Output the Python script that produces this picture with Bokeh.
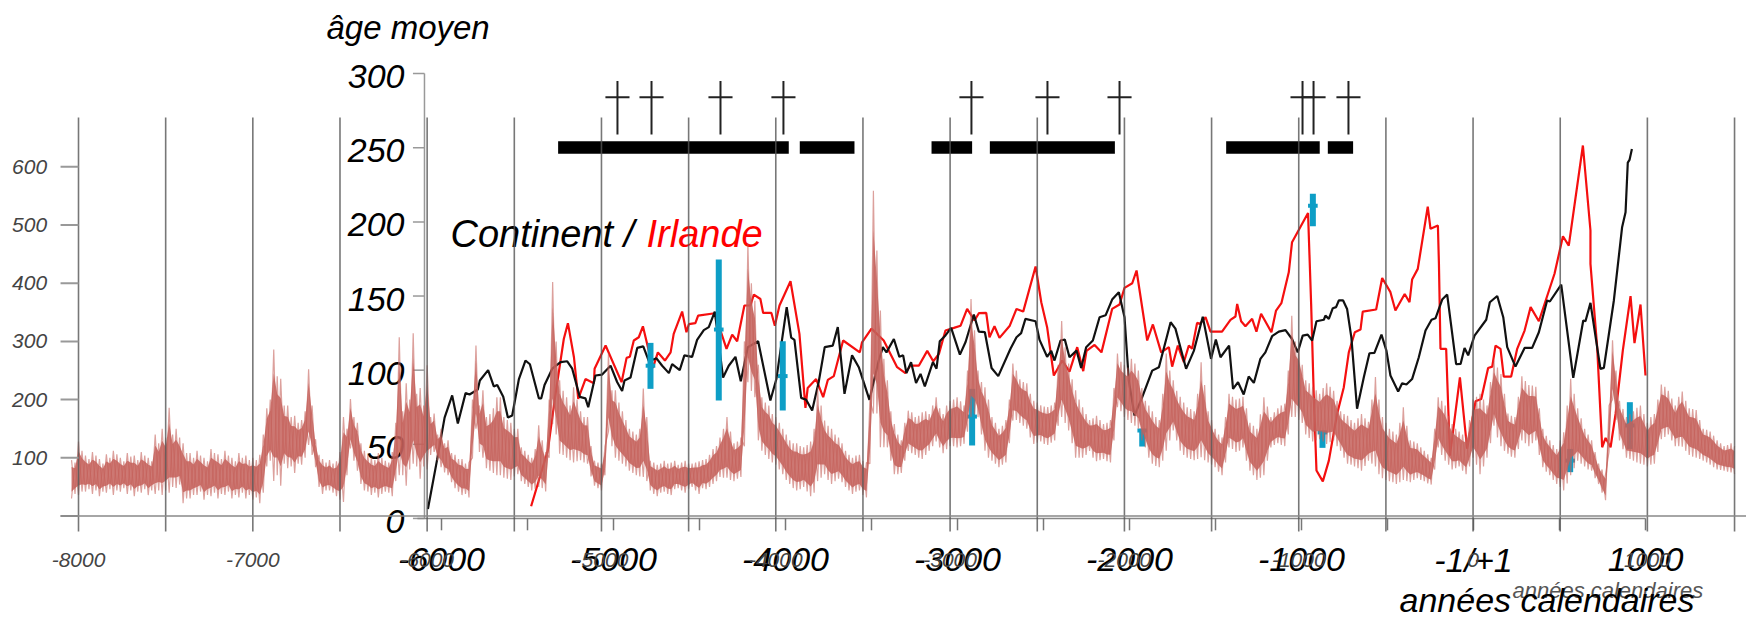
from bokeh.plotting import figure
from bokeh.models import Range1d
from bokeh.core.properties import value
from bokeh.embed import file_html
from bokeh.resources import INLINE

# ---------- black curve (Continent), front axes ----------
black_years = [-6079,-6025,-5982,-5938,-5905,-5860,-5837,-5789,-5777,-5729,-5696,-5676,-5641,-5614,-5589,-5550,-5512,-5486,-5434,-5420,-5401,-5356,-5308,-5269,-5240,-5196,-5163,-5147,-5105,-5066,-5017,-4979,-4950,-4936,-4901,-4862,-4827,-4794,-4750,-4717,-4678,-4659,-4615,-4588,-4543,-4514,-4475,-4446,-4411,-4363,-4330,-4291,-4260,-4219,-4159,-4088,-4053,-3993,-3967,-3948,-3909,-3880,-3845,-3807,-3772,-3725,-3696,-3657,-3613,-3574,-3512,-3458,-3434,-3413,-3370,-3338,-3316,-3297,-3270,-3241,-3215,-3190,-3143,-3122,-3103,-3070,-3037,-2986,-2953,-2905,-2876,-2841,-2802,-2763,-2692,-2657,-2630,-2605,-2546,-2523,-2479,-2455,-2436,-2401,-2376,-2349,-2308,-2281,-2252,-2213,-2174,-2139,-2101,-2062,-2029,-2004,-1971,-1926,-1868,-1829,-1761,-1733,-1671,-1626,-1574,-1526,-1498,-1471,-1421,-1398,-1369,-1336,-1307,-1277,-1239,-1210,-1171,-1132,-1093,-1055,-1022,-993,-964,-938,-913,-870,-861,-841,-818,-799,-783,-758,-735,-710,-677,-638,-605,-576,-535,-506,-483,-438,-415,-390,-357,-318,-279,-244,-221,-182,-153,-101,-75,-52,-31,6,74,95,138,173,196,244,297,341,380,428,444,510,580,638,651,680,738,758,816,864,884,897,907,921]
black_ages = [6.4,40,68,83,64,84.5,83.6,87,93,100,89,90,82,68,69.4,94,106.5,104,81,81,90,101,105.4,106,101,82,81,75,96.4,97,103,92,86,93,95,115,116,106,108,103,98,104,100,110,109,120.4,127,129,139.5,95,103,109,92.5,115.5,119.5,79.5,94,142.5,122,120.4,81.3,80,72.8,92,115.5,116.6,129,84,110,102,80,106.5,115.5,112,121,109,110,98,105.4,91.4,97.5,89,105.4,101,119.5,123.4,128.5,110.5,119,137.5,126,125.6,101.5,96,114.4,122.2,125,134.6,133,120.4,109,113,106.5,120,120.6,108.7,113.2,101.5,115.5,120,135.7,137,147.6,152.6,135.7,93,69.4,81.8,99.7,102,132.3,128,100.9,113,136,107.6,120.6,108.7,116.6,87.4,91.9,83.6,95.7,91.4,107.6,112,122.9,126,127,121,112,123.3,124,120,133,134,136.8,134.6,141.8,142.5,147,147,141.3,122,74,95,111.4,111.6,124,113,96.4,85.6,91.2,90.3,94,108.7,126.7,134,135,147.6,151,104,104.2,115,110,123.3,134,145.8,150,135.7,115.5,102.4,115,115,125.6,147,146.3,157.7,94.8,133.5,133,145.4,100.9,101.5,147,196.4,206.5,240,241.8,249.2]

# ---------- red curve (Irlande), front axes ----------
red_years = [-5479,-5382,-5337,-5289,-5265,-5230,-5205,-5163,-5114,-5110,-5046,-4953,-4924,-4905,-4882,-4853,-4829,-4771,-4742,-4701,-4668,-4650,-4601,-4576,-4562,-4524,-4508,-4411,-4343,-4310,-4281,-4239,-4204,-4184,-4146,-4130,-4082,-4062,-4035,-3971,-3919,-3884,-3871,-3822,-3781,-3754,-3719,-3665,-3568,-3555,-3500,-3429,-3351,-3303,-3274,-3225,-3176,-3141,-3108,-3070,-3021,-2982,-2944,-2901,-2876,-2833,-2814,-2785,-2756,-2696,-2657,-2618,-2546,-2513,-2479,-2440,-2391,-2349,-2304,-2269,-2250,-2203,-2163,-2101,-2058,-2029,-1984,-1959,-1897,-1864,-1816,-1771,-1752,-1719,-1684,-1655,-1636,-1607,-1591,-1558,-1529,-1462,-1413,-1384,-1374,-1351,-1326,-1287,-1262,-1235,-1175,-1148,-1117,-1074,-1055,-962,-944,-929,-913,-876,-841,-793,-754,-725,-690,-657,-644,-566,-531,-483,-454,-400,-372,-357,-324,-266,-250,-207,-201,-192,-159,-137,-79,-37,12,45,85,109,128,157,176,219,254,297,332,380,471,520,554,636,680,680,719,748,768,797,826,868,913,936,971,1000]
red_ages = [8.2,45.8,84,121,131.7,108.7,80.6,94,91.2,100.9,116.6,91.9,108.3,109,120,122.2,129.6,101.5,112,106.5,112,124.5,139.5,125.6,131,131.7,136.8,138.4,114.4,124,119.5,143.6,143.6,151,148,138.6,138.6,130,143.6,160,124.5,74.6,88,94,81.8,93.4,96,120,112,118.8,128,120,102,98,103,103,113,106,111,126.7,128.5,130,141.3,133.5,138.4,138.6,122.2,129.6,121.8,130,141.3,139.5,169.9,145.8,129,96.4,106.5,99,115.5,99.3,113,117,112,141.3,144.3,155.5,158.6,167.2,120,130.8,112,115.5,102.4,116.6,105.4,116.6,114.4,131.9,131.2,135.7,126,126,133.9,136.2,144.7,133,129.6,134.6,126,138,125.6,140.2,145.2,166,186.3,206,144.7,84,32.3,25,39,70.5,88.5,112,125.6,127.4,139.5,140.9,162.2,152.6,140.2,151.4,145.8,161.1,168.3,210.3,195.3,197.5,171.7,114.4,114.4,42.4,95.2,47,79,80.6,101.5,102.4,116.6,114.4,95.7,95.7,114.4,126.7,142.5,133,165,190.3,184,251.5,194.2,171.7,115.5,48,54.3,48,70.5,113.2,149.9,118.2,144.3,96.4]

# ---------- brown curve, back axes: band read every 40 years from -8040 to 1480 ----------
brown_high = [96,128,104,110,98,106,112,100,108,104,110,100,140,150,186,150,125,108,112,100,115,106,112,100,108,104,
  100,105,185,286,236,190,172,165,252,132,98,96,94,170,201,160,112,100,108,95,110,307,228,314,220,259,
  176,150,130,105,98,92,293,216,175,204,170,160,150,112,100,156,110,402,233,204,221,180,170,95,90,
  279,216,180,150,140,219,95,88,95,92,88,95,90,94,98,115,135,170,125,135,468,370,204,190,170,
  150,130,125,118,128,221,164,150,135,112,100,105,92,559,353,233,158,130,181,170,178,175,204,175,198,
  204,190,373,250,221,170,150,165,262,235,228,198,190,187,195,335,262,216,187,165,172,158,165,279,260,
  270,250,198,180,165,279,233,205,187,180,264,180,150,135,210,200,205,160,150,204,170,185,193,344,290,
  233,222,210,228,215,180,172,160,175,162,239,170,150,140,187,130,125,112,100,204,190,158,145,138,200,
  210,190,267,244,176,170,240,225,222,150,130,115,144,236,185,150,130,90,72,302,198,170,180,190,160,
  175,226,215,190,214,185,182,150,145,130,120,125]
brown_low = [30,36,42,38,34,40,36,42,38,34,40,36,38,36,40,48,22,30,36,28,34,30,36,30,32,30,
  28,22,85,60,52,82,74,88,122,84,38,44,34,24,116,78,44,36,32,42,34,70,52,90,64,80,
  110,84,70,48,36,32,150,100,78,70,66,62,72,55,44,50,42,158,107,100,92,96,90,52,44,
  145,100,90,78,70,67,44,34,42,36,48,40,50,38,46,55,67,66,60,67,230,204,112,98,88,
  72,55,44,50,34,60,72,55,64,50,38,44,32,176,118,118,72,74,112,105,98,112,128,108,120,
  118,124,170,170,112,95,84,92,164,160,150,124,128,122,130,170,147,100,100,112,94,98,92,187,170,
  160,150,118,90,84,112,147,112,100,96,101,92,84,70,118,110,118,78,62,70,118,125,120,170,165,
  140,128,132,124,130,112,90,85,78,95,85,65,60,55,62,58,65,60,54,118,95,80,85,72,100,
  72,100,155,120,107,100,130,120,130,84,70,55,44,70,95,85,78,55,27,200,130,100,95,90,85,
  90,132,140,120,119,105,100,95,88,80,78,75]
# readings halfway between those above (-8020 to 1500)
brown_high_mid = [92,112,98,104,90,100,106,94,102,96,104,94,125,135,140,135,108,100,104,94,108,98,104,94,100,96,
  96,140,200,240,190,170,160,180,190,105,92,90,110,150,170,125,105,96,100,92,160,180,200,210,190,170,
  140,125,108,98,90,200,190,170,185,204,165,150,118,105,115,130,200,300,215,190,200,170,120,92,120,
  216,195,165,145,150,170,92,90,90,95,92,90,92,96,105,120,150,145,128,300,400,260,195,175,160,
  140,125,120,122,150,190,155,140,125,105,104,95,200,456,270,180,140,160,178,172,180,190,185,190,200,
  197,250,319,230,200,160,155,200,250,230,210,195,188,190,260,290,235,200,175,168,165,160,220,265,255,
  262,220,190,170,210,250,215,195,184,210,225,165,140,170,205,202,185,155,175,188,178,190,250,300,260,
  228,216,220,222,198,175,165,168,168,200,200,160,145,160,155,128,118,106,150,198,172,150,140,165,205,
  200,230,255,210,172,205,232,224,185,138,122,130,190,210,168,140,110,80,190,250,184,175,186,175,170,
  200,222,202,205,198,184,165,148,138,125,122,120]
brown_low_mid = [38,42,46,44,42,46,44,48,44,42,46,44,44,44,50,54,30,36,42,36,40,38,42,36,40,36,
  32,40,95,70,90,85,90,100,105,50,44,40,28,70,95,55,42,40,38,40,60,70,80,85,85,105,
  95,75,58,42,38,100,110,82,74,70,64,68,60,50,46,48,100,140,105,96,94,92,68,48,70,
  120,95,85,74,68,60,38,40,38,46,44,46,44,48,50,60,66,62,64,120,215,130,105,92,80,
  62,48,46,42,40,66,62,60,58,44,42,36,90,176,118,95,72,95,108,100,105,120,118,115,120,
  120,145,175,140,100,90,88,125,165,155,135,126,124,126,155,160,125,100,105,100,96,94,130,180,165,
  155,130,100,86,95,130,130,105,98,98,96,88,76,92,115,112,95,70,66,95,122,122,140,170,160,
  134,130,128,127,120,100,88,82,86,90,72,62,58,58,60,62,62,56,80,105,88,82,78,85,88,
  85,125,135,112,102,115,125,125,105,76,62,50,56,82,90,80,65,40,110,165,115,98,92,88,88,
  110,136,130,120,112,102,98,92,84,79,76,72]
brown_step = 20
brown_start = -8040

# ---------- blue error bars, front axes ----------
blue_years = [-4785,-4388,-4016,-2915,-1926,-934,-878,562,909]
blue_low = [87.4,79.5,72.8,49.2,48.5,197,47.6,31.2,46.9]
blue_high = [118.4,174.6,119.5,87.4,60.4,218.9,59.3,46.9,78.4]
blue_mid = [103,127.4,96,68.7,59.3,210.8,58,39,62.7]

# ---------- black bars and crosses, front axes ----------
bar_start = [-5322,-3917,-3151,-2812,-1438,-847]
bar_end = [-3981,-3599,-2915,-2085,-894,-700]
bar_low = 245.9
bar_high = 254.4
cross_years = [-4977,-4779,-4378,-4012,-2919,-2477,-2058,-994,-930,-727]
cross_top = 295
cross_bottom = 259
cross_arm = 284
cross_half = 70

# ---------- axes ----------
back_y_ticks = [100,200,300,400,500,600]
back_y_labels = ["100","200","300","400","500","600"]
back_x_ticks = [-8000,-7000,-6000,-5000,-4000,-3000,-2000,-1000,0,1000]
back_x_labels = ["-8000","-7000","-6000","-5000","-4000","-3000","-2000","-1000","0","1000"]
back_grid = [-8000,-7500,-7000,-6500,-6000,-5500,-5000,-4500,-4000,-3500,-3000,-2500,-2000,-1500,-1000,-500,0,500,1000,1500]
front_y_ticks = [0,50,100,150,200,250,300]
front_y_labels = ["0","50","100","150","200","250","300"]
front_x_ticks = [-6000,-5500,-5000,-4500,-4000,-3500,-3000,-2500,-2000,-1500,-1000,-500,0,500,1000]
front_x_label_pos = [-6000,-5000,-4000,-3000,-2000,-1000,0,1000]
front_x_labels = ["-6000","-5000","-4000","-3000","-2000","-1000","-1/+1","1000"]

p = figure(width=1746, height=625, output_backend="svg", toolbar_location=None,
           x_range=Range1d(-8447.5, 1568.6), y_range=Range1d(-188.1, 885.7),
           min_border=0, outline_line_color=None, background_fill_color="white")
p.grid.visible = False
p.axis.visible = False
p.extra_x_ranges["fx"] = Range1d(-8564, 1587.2)
p.extra_y_ranges["fy"] = Range1d(-72.2, 349.3)
F = dict(x_range_name="fx", y_range_name="fy")
ARIAL = value("Liberation Sans")
BIG = dict(text_font=ARIAL, text_font_style="italic", text_color="black")

# front axes
p.segment([-6099], [0], [-6099], [300], line_color="#999999", line_width=1.5, **F)
p.segment([-6166]*7, front_y_ticks, [-6099]*7, front_y_ticks, line_color="#999999", line_width=1.5, **F)
p.segment([-6140], [0], [1000], [0], line_color="#888888", line_width=1.5, **F)
p.segment(front_x_ticks, [0]*15, front_x_ticks, [-8]*15, line_color="#777777", line_width=1.5, **F)
p.text([-6215]*7, front_y_ticks, text=front_y_labels, text_font_size="34px", text_align="right",
       text_baseline="middle", y_offset=3, **BIG, **F)
p.text(front_x_label_pos, [-28]*8, text=front_x_labels, text_font_size="34px", text_align="center",
       text_baseline="middle", **BIG, **F)
p.text([-6669], [331], text=["âge moyen"], text_font_size="33px", text_baseline="alphabetic", **BIG, **F)
p.text([-5948], [192], text=["Continent /"], text_font_size="38px", text_baseline="alphabetic", **BIG, **F)
p.text([-4808], [192], text=["Irlande"], text_font=ARIAL, text_font_style="italic", text_color="red",
       text_font_size="38px", text_baseline="alphabetic", **F)

# curves and marks of the front chart
p.line(red_years, red_ages, line_color="#F50F0F", line_width=2.2, **F)
p.line(black_years, black_ages, line_color="#111111", line_width=2.2, **F)
p.segment(blue_years, blue_low, blue_years, blue_high, line_color="#0E9EC6", line_width=6, **F)
p.segment([y-28 for y in blue_years], blue_mid, [y+28 for y in blue_years], blue_mid,
          line_color="#0E9EC6", line_width=4, **F)
p.quad(left=bar_start, right=bar_end, bottom=[bar_low]*6, top=[bar_high]*6,
       fill_color="black", line_color=None, **F)
p.segment(cross_years, [cross_bottom]*10, cross_years, [cross_top]*10, line_color="#222222", line_width=2, **F)
p.segment([y-cross_half for y in cross_years], [cross_arm]*10, [y+cross_half for y in cross_years], [cross_arm]*10,
          line_color="#222222", line_width=2, **F)

# brown band of the back chart
assert len(brown_high) == len(brown_low) == len(brown_high_mid) == len(brown_low_mid) == 239
all_high, all_low = [], []
for a, b, c, d in zip(brown_high, brown_high_mid, brown_low, brown_low_mid):
    all_high += [a, b]
    all_low += [c, d]
years = [brown_start + brown_step*i for i in range(len(all_high))]
BROWN = "#C4605A"
zig_a = [all_high[i] if i % 2 == 0 else all_low[i] for i in range(len(years))]
zig_b = [all_low[i] if i % 2 == 0 else all_high[i] for i in range(len(years))]
p.line(years, zig_a, line_color=BROWN, line_width=1.2, line_alpha=0.6)
p.line(years, zig_b, line_color=BROWN, line_width=1.2, line_alpha=0.6)
core_low = [l + (h-l)*0.18 for l, h in zip(all_low, all_high)]
core_high = [h - (h-l)*0.18 for l, h in zip(all_low, all_high)]
p.varea(years, core_low, core_high, fill_color=BROWN, fill_alpha=0.85)

# back axes on top
p.segment(back_grid, [-26.6]*20, back_grid, [684.7]*20, line_color="#555555", line_width=1.6, line_alpha=0.8)
p.segment([-8103]*7, [0]+back_y_ticks, [-8000]*7, [0]+back_y_ticks, line_color="#999999", line_width=2)
p.segment([-8103], [0], [1568], [0], line_color="#888888", line_width=1.5)
p.text([-8180]*6, back_y_ticks, text=back_y_labels, text_font=ARIAL, text_font_style="italic",
       text_font_size="21px", text_align="right", text_baseline="middle", text_color="#444444")
p.text(back_x_ticks, [-76]*10, text=back_x_labels, text_font=ARIAL, text_font_style="italic",
       text_font_size="21px", text_align="center", text_baseline="middle", text_color="#444444")
p.text([226], [-128], text=["années calendaires"], text_font=ARIAL, text_font_style="italic",
       text_font_size="22px", text_baseline="alphabetic", text_color="#555555")
p.text([-430], [-55], text=["années calendaires"], text_font_size="34px", text_baseline="alphabetic", **BIG, **F)

open("out.html", "w").write(file_html(p, INLINE))
